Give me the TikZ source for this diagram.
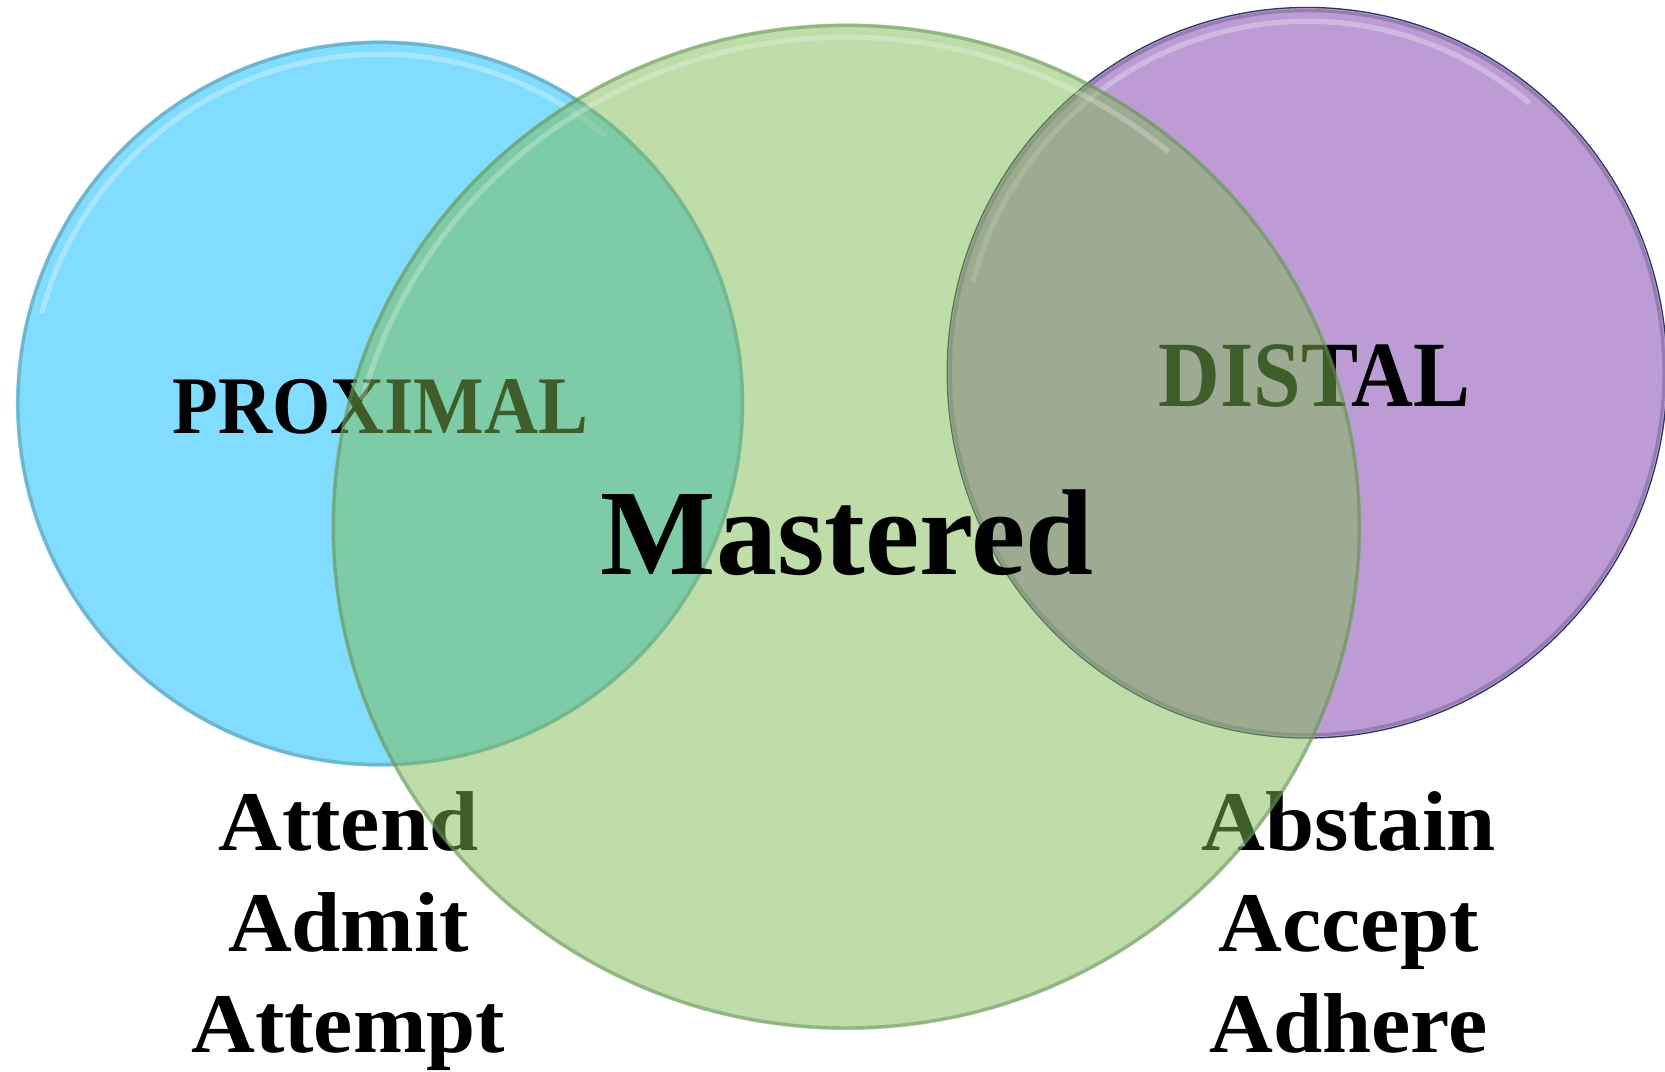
\documentclass[tikz,border=0pt]{standalone}
\usepackage{fontspec}
\setmainfont{Liberation Serif}
\newfontfamily\capsfont[FakeStretch=0.915]{Liberation Serif}
\newfontfamily\wordfont[FakeStretch=1.04]{Liberation Serif}
\usetikzlibrary{positioning,calc}

\definecolor{proxblue}{RGB}{128,221,255}
\definecolor{proxrim}{RGB}{115,180,205}
\definecolor{distpurple}{RGB}{189,155,213}
\definecolor{distrim}{RGB}{150,125,175}
\definecolor{distline}{RGB}{40,55,100}
\definecolor{mastgreen}{RGB}{125,187,81}
\definecolor{mastrim}{RGB}{95,130,90}

\begin{document}
\begin{tikzpicture}[x=0.5pt, y=0.5pt,
    word/.style={anchor=base, inner sep=0pt, font=\fontsize{40pt}{47.5pt}\wordfont\bfseries},
    shine/.style={white, opacity=0.3, line width=2.5pt}]
\useasboundingbox (0,0) rectangle (1568,1009);
\clip (0,0) rectangle (1568,1009);
\coordinate (prox) at (358,629);
\coordinate (dist) at (1231,658);
\coordinate (mast) at (797,513);
% side circles
\fill[proxblue] (prox) ellipse [x radius=343, y radius=342];
\draw[proxrim, line width=1.5pt] (prox) ellipse [x radius=341, y radius=340];
\draw[shine] ($(prox)+(165:330 and 329)$) arc [start angle=165, end angle=50, x radius=330, y radius=329];
\fill[distpurple] (dist) ellipse [x radius=339, y radius=344];
\draw[distrim, line width=1.5pt] (dist) ellipse [x radius=336, y radius=341];
\draw[distline, line width=0.6pt] (dist) ellipse [x radius=339, y radius=344];
\draw[shine] ($(dist)+(165:326 and 331)$) arc [start angle=165, end angle=50, x radius=326, y radius=331];
% labels under the big circle
\node[anchor=base, inner sep=0pt, font=\fontsize{38.5pt}{40pt}\capsfont\bfseries] (proximal) at (358,601) {PROXIMAL};
\node[anchor=base, inner sep=0pt, font=\fontsize{44pt}{46pt}\capsfont\bfseries] (distal) at (1238,626) {DISTAL};
\foreach \w [count=\i] in {Attend,Admit,Attempt}
  \node[word] (p\i) at (328,303-95*\i) {\w};
\foreach \w [count=\i] in {Abstain,Accept,Adhere}
  \node[word] (d\i) at (1270,303-95*\i) {\w};
% big circle
\fill[mastgreen, opacity=0.5] (mast) ellipse [x radius=485, y radius=474];
\draw[mastrim, opacity=0.45, line width=1.5pt] (mast) ellipse [x radius=483, y radius=472];
\draw[shine, opacity=0.25] ($(mast)+(165:472 and 461)$) arc [start angle=165, end angle=50, x radius=472, y radius=461];
\node[anchor=base, inner sep=0pt, font=\fontsize{57.5pt}{60pt}\selectfont\bfseries] (mastered) at (798,468) {Mastered};
\end{tikzpicture}
\end{document}
